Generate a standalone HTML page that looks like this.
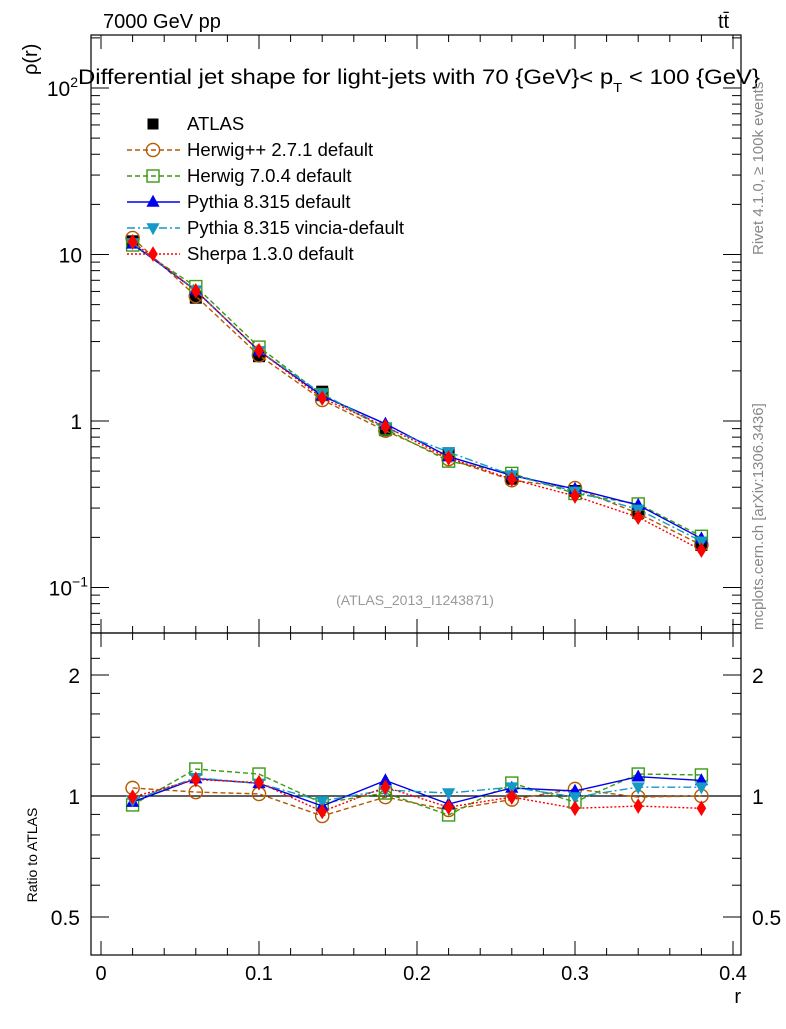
<!DOCTYPE html>
<html><head><meta charset="utf-8"><style>
body{margin:0;background:#fff}
svg text{font-family:"Liberation Sans",sans-serif}
</style></head><body>
<svg id="c" width="786" height="1024" xmlns="http://www.w3.org/2000/svg">
<g id="frames">
<rect x="91" y="35" width="650" height="598" fill="none" stroke="#000" stroke-width="1.2"/>
<rect x="91" y="633" width="650" height="322" fill="none" stroke="#000" stroke-width="1.2"/>
</g>
<g id="ticks"></g>
<g id="marks"></g>
<text x="103" y="28" font-size="20">7000 GeV pp</text>
<text x="718" y="28" font-size="20">tt̄</text>
<text x="78" y="84" font-size="21" textLength="682" lengthAdjust="spacingAndGlyphs">Differential jet shape for light-jets with 70 {GeV}&lt; p<tspan font-size="13" dy="8">T</tspan><tspan dy="-8"> &lt; 100 {GeV}</tspan></text>
<text transform="translate(37,75) rotate(-90)" font-size="20">ρ(r)</text>
<text transform="translate(37,855) rotate(-90)" font-size="14" text-anchor="middle">Ratio to ATLAS</text>
<text x="741" y="1003" font-size="20" text-anchor="end">r</text>
<text transform="translate(763,255) rotate(-90)" font-size="15" fill="#888">Rivet 4.1.0, ≥ 100k events</text>
<text transform="translate(763,630) rotate(-90)" font-size="15" fill="#888">mcplots.cern.ch [arXiv:1306.3436]</text>
<text x="415" y="605" font-size="14" fill="#999" text-anchor="middle">(ATLAS_2013_I1243871)</text>
<g id="legend"></g>
</svg>
<script>
const rVals=[0.02,0.06,0.10,0.14,0.18,0.22,0.26,0.30,0.34,0.38];
const atlas=[12,5.5,2.45,1.5,0.88,0.64,0.45,0.38,0.28,0.18];
const herwigpp=[1.047,1.023,1.012,0.892,0.994,0.923,0.98,1.041,0.994,1.0];
const herwig7=[0.95,1.167,1.134,0.96,1.017,0.897,1.077,0.966,1.134,1.128];
const pythia=[0.966,1.105,1.075,0.944,1.093,0.955,1.047,1.029,1.117,1.093];
const vincia=[0.977,1.11,1.075,0.972,1.035,1.017,1.052,0.994,1.052,1.052];
const sherpa=[0.994,1.099,1.08,0.915,1.052,0.938,0.994,0.932,0.944,0.932];
const series=[
 {name:'Herwig++ 2.7.1 default',r:herwigpp,c:'#b35900',dash:'5,3',m:'circle',key:'herwigpp'},
 {name:'Herwig 7.0.4 default',r:herwig7,c:'#3c9a12',dash:'5,3',m:'square',key:'herwig7'},
 {name:'Pythia 8.315 default',r:pythia,c:'#0000ee',dash:'',m:'tri',key:'pythia'},
 {name:'Pythia 8.315 vincia-default',r:vincia,c:'#1599c5',dash:'8,3,2,3',m:'tridown',key:'vincia'},
 {name:'Sherpa 1.3.0 default',r:sherpa,c:'#ff0000',dash:'2,2',m:'diamond',key:'sherpa'}];
const NS='http://www.w3.org/2000/svg';
const X=v=>101+v*1580;
const Y=v=>421-166.5*Math.log10(v);
const R=v=>796-174.6*Math.log(v);
function mk(t,a,p){const e=document.createElementNS(NS,t);for(const k in a)e.setAttribute(k,a[k]);document.getElementById(p).appendChild(e);return e;}
for(let i=0;i<=20;i++){const v=i*0.02,x=X(v),L=i%5==0?14:7;if(x>741)break;
 for(const [y0,d] of [[35,1],[633,-1],[633,1],[955,-1]]){const t=mk('line',{x1:x,x2:x,y1:y0,y2:y0+d*L,stroke:'#000'},'ticks');
 
 }
 if(i%5==0){const t=mk('text',{x:x,y:980,'font-size':20,'text-anchor':'middle'},'ticks');t.textContent=(v==0?'0':v.toFixed(1));
 
 }}
for(let d=-2;d<=2;d++)for(let k=1;k<10;k++){const v=k*Math.pow(10,d),y=Y(v);if(y<35||y>633)continue;const L=k==1?18:9;
 for(const [x0,s] of [[91,1],[741,-1]]){const t=mk('line',{x1:x0,x2:x0+s*L,y1:y,y2:y,stroke:'#000'},'ticks');
 
 }}
[[100,'10','2'],[10,'10',''],[1,'1',''],[0.1,'10','−1']].forEach(([v,b,e])=>{const t=mk('text',{x:e?(e=='2'?78:88):82,y:Y(v)+8,'font-size':21,'text-anchor':'end'},'ticks');
 t.innerHTML=b+(e?'<tspan font-size="14" dy="-9">'+e+'</tspan>':'');
 
 });
[0.5,0.6,0.7,0.8,0.9,1,1.2,1.4,1.6,1.8,2,2.2].forEach(v=>{const y=R(v);if(y<633||y>955)return;const L=(v==0.5||v==1||v==2)?18:9;
 for(const [x0,s] of [[91,1],[741,-1]]){const t=mk('line',{x1:x0,x2:x0+s*L,y1:y,y2:y,stroke:'#000'},'ticks');
 
 }});
[[2,'2'],[1,'1'],[0.5,'0.5']].forEach(([v,s])=>{for(const [x,a] of [[80,'end'],[752,'start']]){const t=mk('text',{x:x,y:R(v)+8,'font-size':21,'text-anchor':a},'ticks');t.textContent=s;
 
 }});
const ref=mk('line',{x1:91,x2:741,y1:R(1),y2:R(1),stroke:'#000','stroke-width':1.3},'marks');


function marker(m,x,y,c,s,name){let e;
 if(m=='circle')e=mk('circle',{cx:x,cy:y,r:s*0.55,fill:'none',stroke:c,'stroke-width':1.4},'marks');
 else if(m=='square')e=mk('rect',{x:x-s/2,y:y-s/2,width:s,height:s,fill:'none',stroke:c,'stroke-width':1.4},'marks');
 else if(m=='fsquare')e=mk('rect',{x:x-s/2,y:y-s/2,width:s,height:s,fill:c},'marks');
 else if(m=='tri')e=mk('polygon',{points:`${x},${y-s*0.6} ${x-s*0.55},${y+s*0.4} ${x+s*0.55},${y+s*0.4}`,fill:c},'marks');
 else if(m=='tridown')e=mk('polygon',{points:`${x},${y+s*0.6} ${x-s*0.55},${y-s*0.4} ${x+s*0.55},${y-s*0.4}`,fill:c},'marks');
 else e=mk('polygon',{points:`${x},${y-s*0.65} ${x-s*0.4},${y} ${x},${y+s*0.65} ${x+s*0.4},${y}`,fill:c},'marks');
 
 }
rVals.forEach((r,i)=>marker('fsquare',X(r),Y(atlas[i]),'#000',12,'atlas-point'));
series.forEach(s=>{
 const pm=rVals.map((r,i)=>X(r)+','+Y(atlas[i]*s.r[i])).join(' ');
 const l=mk('polyline',{points:pm,fill:'none',stroke:s.c,'stroke-width':1.4,'stroke-dasharray':s.dash},'marks');
 
 
 const pr=rVals.map((r,i)=>X(r)+','+R(s.r[i])).join(' ');
 const l2=mk('polyline',{points:pr,fill:'none',stroke:s.c,'stroke-width':1.4,'stroke-dasharray':s.dash},'marks');
 
 
 rVals.forEach((r,i)=>{marker(s.m,X(r),Y(atlas[i]*s.r[i]),s.c,12,s.key+'-point');marker(s.m,X(r),R(s.r[i]),s.c,12,s.key+'-ratio-point');});
});
const rows=[{name:'ATLAS',m:'fsquare',c:'#000',dash:null,key:'atlas'}].concat(series);
rows.forEach((s,i)=>{const y=124+i*26;
 if(s.dash!==null){const l=mk('line',{x1:127,x2:180,y1:y,y2:y,stroke:s.c,'stroke-width':1.4,'stroke-dasharray':s.dash},'legend');
 
 }
 marker(s.m,153,y,s.c,s.m=='fsquare'?11:12,'legend-marker');
 const t=mk('text',{x:187,y:y+6,'font-size':18.5},'legend');t.textContent=s.name;
 
 
});
</script>
</body></html>
